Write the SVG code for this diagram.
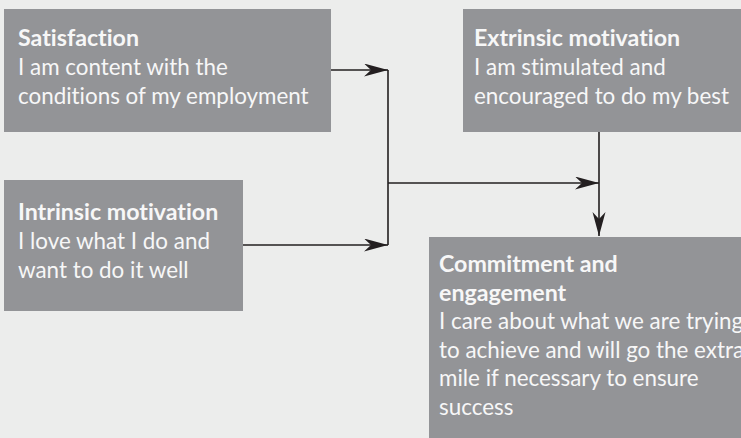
<svg xmlns="http://www.w3.org/2000/svg" width="741" height="438" viewBox="0 0 741 438">
<style>
.box{fill:#939497;}
.t{font-family:Lato,"Open Sans","Liberation Sans",sans-serif;font-size:22.4px;fill:#F7F7F7;font-variant-ligatures:none;}
.b{font-weight:bold;font-size:23.2px;}
.ln{stroke:#231F20;stroke-width:1.6;fill:none;}
</style>
<defs>
<marker id="ah" markerUnits="userSpaceOnUse" markerWidth="26" markerHeight="14" refX="24" refY="6.5" orient="auto">
<path d="M0,0 L24,6.5 L0,13 L7,6.5 Z" fill="#231F20"/>
</marker>
</defs>
<rect width="741" height="438" fill="#ECEDEC"/>
<g id="satisfaction">
<rect class="box" x="4" y="9" width="327" height="123"/>
<text class="t b" x="18" y="46">Satisfaction</text>
<text class="t" x="18" y="75">I am content with the</text>
<text class="t" x="18" y="104">conditions of my employment</text>
</g>
<g id="intrinsic">
<rect class="box" x="4" y="180" width="239" height="131"/>
<text class="t b" x="18" y="220">Intrinsic motivation</text>
<text class="t" x="18" y="249">I love what I do and</text>
<text class="t" x="18" y="278">want to do it well</text>
</g>
<g id="extrinsic">
<rect class="box" x="463" y="9" width="278" height="123"/>
<text class="t b" x="474" y="46">Extrinsic motivation</text>
<text class="t" x="474" y="75">I am stimulated and</text>
<text class="t" x="474" y="104">encouraged to do my best</text>
</g>
<g id="commitment">
<rect class="box" x="429" y="237" width="312" height="201"/>
<text class="t b" x="439" y="272">Commitment and</text>
<text class="t b" x="439" y="300.5">engagement</text>
<text class="t" x="439" y="329">I care about what we are trying</text>
<text class="t" x="439" y="357.5">to achieve and will go the extra</text>
<text class="t" x="439" y="386">mile if necessary to ensure</text>
<text class="t" x="439" y="414.5">success</text>
</g>
<g id="connectors">
<path class="ln" d="M331,70 H388" marker-end="url(#ah)"/>
<path class="ln" d="M243,245 H388" marker-end="url(#ah)"/>
<path class="ln" d="M388,70 V245"/>
<path class="ln" d="M388,183 H599" marker-end="url(#ah)"/>
<path class="ln" d="M599,132 V236" marker-end="url(#ah)"/>
</g>
</svg>
